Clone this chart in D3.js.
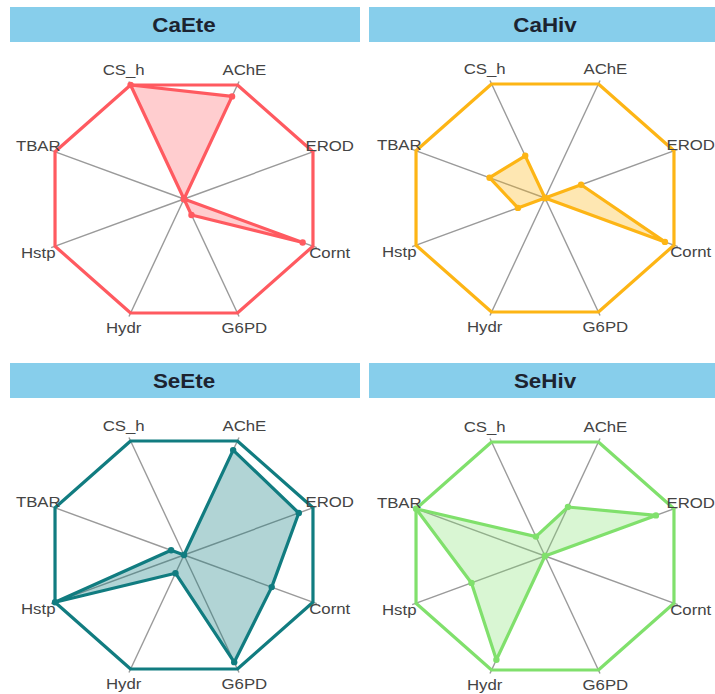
<!DOCTYPE html>
<html>
<head>
<meta charset="utf-8">
<script src="https://cdn.jsdelivr.net/npm/d3@7"></script>
<style>
  html, body { margin: 0; padding: 0; background: #ffffff; }
  svg { display: block; }
</style>
</head>
<body>
<svg id="chart" width="715" height="694"></svg>
<script>
// ---- data ----
const axes = ["CS_h", "AChE", "EROD", "Cornt", "G6PD", "Hydr", "Hstp", "TBAR"];
const groups = ["CaEte", "CaHiv", "SeEte", "SeHiv"];
const CaEte = [1.00, 0.90, 0.00, 0.92, 0.14, 0.00, 0.00, 0.00];
const CaHiv = [0.37, 0.00, 0.28, 0.93, 0.00, 0.00, 0.21, 0.43];
const SeEte = [0.00, 0.92, 0.89, 0.68, 0.94, 0.16, 1.00, 0.10];
const SeHiv = [0.17, 0.43, 0.86, 0.00, 0.00, 0.91, 0.57, 1.00];
const seriesValues = [CaEte, CaHiv, SeEte, SeHiv];

// ---- styling / layout ----
const colors = ["#FF5A60", "#FDB515", "#117C80", "#80E06C"];
const fills  = ["rgba(255,90,96,0.30)", "rgba(253,181,21,0.33)", "rgba(17,124,128,0.33)", "rgba(128,224,108,0.30)"];
const centers = [[184, 199], [545, 198], [184, 555], [545, 556]];
const headers = [
  {x: 10, y: 7, w: 350}, {x: 369, y: 7, w: 346},
  {x: 10, y: 363, w: 350}, {x: 369, y: 363, w: 346}
];
const RX = 139.6, RY = 123.4;   // image is anisotropically stretched
const SX = 1.12;                // horizontal text stretch

const svg = d3.select("#chart");

const angle = d3.scaleBand().domain(axes).range([-Math.PI / 8 * 1, 2 * Math.PI - Math.PI / 8]).align(0).paddingInner(0).paddingOuter(0);
// angle measured clockwise from vertical; CS_h at -22.5deg
const ang = a => -Math.PI / 8 + axes.indexOf(a) * (2 * Math.PI / axes.length);
const r = d3.scaleLinear().domain([0, 1]).range([0, 1]);

groups.forEach((g, gi) => {
  const [cx, cy] = centers[gi];
  const h = headers[gi];
  const P = (a, v) => [cx + RX * r(v) * Math.sin(ang(a)), cy - RY * r(v) * Math.cos(ang(a))];
  const G = svg.append("g");

  // header bar
  G.append("rect").attr("x", h.x).attr("y", h.y).attr("width", h.w).attr("height", 35)
    .attr("fill", "#87CEEB");
  G.append("text")
    .attr("transform", `translate(${cx},${h.y + 25}) scale(${SX},1)`)
    .attr("text-anchor", "middle")
    .attr("font-family", "Liberation Sans, Arial, sans-serif")
    .attr("font-weight", "bold").attr("font-size", 20)
    .attr("fill", "#1c2330").text(g);

  // spokes
  G.selectAll(".spoke").data(axes).enter().append("line")
    .attr("x1", cx).attr("y1", cy)
    .attr("x2", a => P(a, 1.03)[0]).attr("y2", a => P(a, 1.03)[1])
    .attr("stroke", "#9a9a9a").attr("stroke-width", 1.4);

  // octagon frame
  const line = d3.line().curve(d3.curveLinearClosed);
  G.append("path")
    .attr("d", line(axes.map(a => P(a, 1))))
    .attr("fill", "none").attr("stroke", colors[gi]).attr("stroke-width", 3.2)
    .attr("stroke-linejoin", "round");

  // data polygon
  const vals = seriesValues[gi];
  const pts = axes.map((a, i) => P(a, vals[i]));
  G.append("path")
    .attr("d", line(pts))
    .attr("fill", fills[gi]).attr("stroke", colors[gi]).attr("stroke-width", 3.2)
    .attr("stroke-linejoin", "round");
  G.selectAll(".pt").data(pts).enter().append("circle")
    .attr("cx", d => d[0]).attr("cy", d => d[1]).attr("r", 3.2)
    .attr("fill", colors[gi]);

  // labels
  G.selectAll(".lbl").data(axes).enter().append("text")
    .attr("transform", a => { const p = P(a, 1.13); return `translate(${p[0]},${p[1]}) scale(${SX},1)`; })
    .attr("text-anchor", "middle").attr("dominant-baseline", "central")
    .attr("font-family", "Liberation Sans, Arial, sans-serif")
    .attr("font-size", 15).attr("fill", "#444")
    .text(a => a);
});
</script>
</body>
</html>
